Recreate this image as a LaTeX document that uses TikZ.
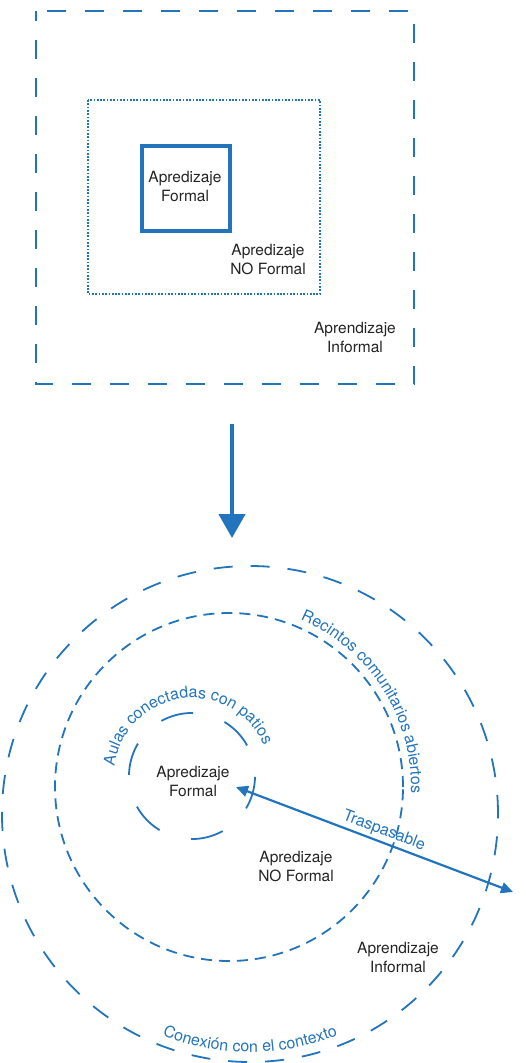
\documentclass[tikz,border=0pt]{standalone}
\usepackage{fontspec}
\setmainfont{TeX Gyre Heros}
\usepackage{tikz}
\usetikzlibrary{arrows.meta,decorations.text}

\definecolor{azul}{RGB}{34,116,189}
\definecolor{tinta}{RGB}{35,35,35}
\newcommand{\rotulo}{\fontsize{15.5}{19}\selectfont}
\newcommand{\rotulocurvo}{\fontsize{16}{19}\selectfont}

\tikzset{
  etiqueta/.style={text=tinta, align=center, font=\rotulo, inner sep=0pt},
  borde/.style={draw=azul, line width=1.8pt},
  curvo/.style={decorate, decoration={text along path, text align=center,
      text color=azul, text={|\rotulocurvo|#1}}}
}

\begin{document}
\begin{tikzpicture}[x=1pt,y=1pt]
	    \useasboundingbox (0,0) rectangle (525,-1063);

	    % cajas
	    \draw[borde, dash pattern=on 19pt off 19pt, dash phase=9.5pt] (36,-11) rectangle (414,-384);
	    \draw[borde, line width=1.9pt, dash pattern=on 1.7pt off 1.6pt] (88,-100) rectangle (320,-294);
	    \draw[borde, line width=4.5pt] (142,-146) rectangle (230,-231);

	    \node[etiqueta] (formalA) at (185,-186) {Apredizaje\\Formal};
	    \node[etiqueta] (noformalA) at (268,-259) {Apredizaje\\NO Formal};
	    \node[etiqueta] (informalA) at (355,-337) {Aprendizaje\\Informal};

	    \coordinate (bajaA) at (232,-424);
	    \coordinate (bajaB) at (232,-538);
	    \draw[azul, line width=4.5pt, -{Triangle[length=24pt,width=26pt]}] (bajaA) -- (bajaB);

	    % circulos
	    \coordinate (cext) at (250,-814);
	    \coordinate (cmed) at (229,-787);
	    \coordinate (cint) at (192,-776);

	    \draw[borde, dash pattern=on 19pt off 18pt] (cext) circle[radius=248];
	    \draw[borde, dash pattern=on 11pt off 7pt] (cmed) circle[radius=174];
	    \draw[borde, dash pattern=on 33pt off 33pt] (cint) ++(29:63) arc[start angle=29, delta angle=360, radius=63];

	    \path[curvo={Aulas conectadas con patios}] (cint) ++(188:78) arc[start angle=188, end angle=8, radius=78];
	    \path[curvo={Recintos comunitarios abiertos}] (cmed) ++(73:182) arc[start angle=73, end angle=-8, radius=182];
	    \path[curvo={Conexión con el contexto}] (cext) ++(230:238) arc[start angle=230, end angle=310, radius=238];

	    \node[etiqueta] (formalB) at (193,-781) {Apredizaje\\Formal};
	    \node[etiqueta] (noformalB) at (296,-866) {Apredizaje\\NO Formal};
	    \node[etiqueta] (informalB) at (398,-957) {Aprendizaje\\Informal};

	    \coordinate (pasoA) at (236,-787);
	    \coordinate (pasoB) at (513,-892);
	    \draw[azul, line width=2.2pt, {Triangle[length=12pt,width=11pt]}-{Triangle[length=12pt,width=11pt]}] (pasoA) -- (pasoB)
	        node[pos=0.52, sloped, above, inner sep=2.5pt, text=azul, font=\rotulocurvo] (trasp) {Traspasable};

	\end{tikzpicture}
\end{document}
